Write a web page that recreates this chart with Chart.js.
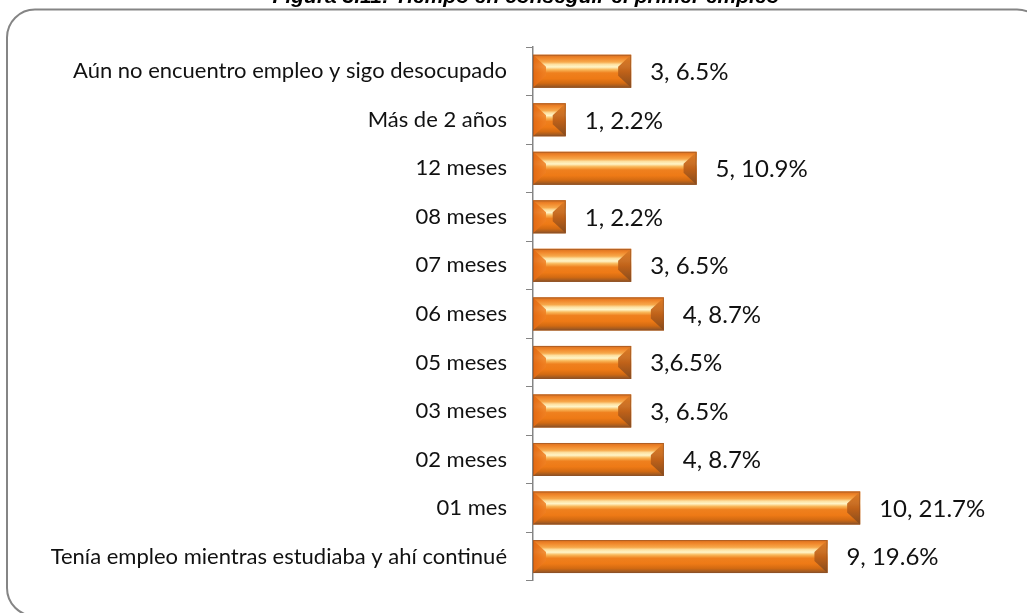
<!DOCTYPE html>
<html>
<head>
<meta charset="utf-8">
<script src="https://cdn.jsdelivr.net/npm/chart.js@4/dist/chart.umd.min.js"></script>
<style>
  html, body { margin: 0; padding: 0; background: #fff; }
  #wrap { position: relative; width: 1027px; height: 613px; }
</style>
</head>
<body>
<div id="wrap"><canvas id="chart" width="1027" height="613"></canvas></div>
<script>
// top to bottom, as in the picture
const categories = [
  'Aún no encuentro empleo y sigo desocupado',
  'Más de 2 años',
  '12 meses',
  '08 meses',
  '07 meses',
  '06 meses',
  '05 meses',
  '03 meses',
  '02 meses',
  '01 mes',
  'Tenía empleo mientras estudiaba y ahí continué',
];
const counts = [3, 1, 5, 1, 3, 4, 3, 3, 4, 10, 9];
const valueLabels = [
  '3, 6.5%', '1, 2.2%', '5, 10.9%', '1, 2.2%', '3, 6.5%', '4, 8.7%',
  '3,6.5%', '3, 6.5%', '4, 8.7%', '10, 21.7%', '9, 19.6%',
];
const titleText = 'Figura 3.11: Tiempo en conseguir el primer empleo';

const FONT = 'Lato';

// rounded frame + clipped title
const framePlugin = {
  id: 'frame',
  beforeDraw(chart) {
    const ctx = chart.ctx;
    ctx.save();
    ctx.strokeStyle = '#858585';
    ctx.lineWidth = 2;
    ctx.beginPath();
    ctx.roundRect(7, 9.5, 1038, 606.5, 28);
    ctx.stroke();
    ctx.fillStyle = '#000';
    ctx.font = 'italic bold 21px "Liberation Sans", Arial';
    ctx.textAlign = 'center';
    ctx.textBaseline = 'alphabetic';
    ctx.fillText(titleText, 526, 3);
    ctx.restore();
  },
};

// bevelled orange look on top of the library's bars + value labels
const bevelPlugin = {
  id: 'bevel',
  afterDatasetsDraw(chart) {
    const ctx = chart.ctx;
    const meta = chart.getDatasetMeta(0);
    meta.data.forEach((bar, i) => {
      const { x, y, base, height } = bar.getProps(['x', 'y', 'base', 'height'], true);
      const top = y - height / 2;
      const bottom = y + height / 2;
      const left = base;
      const right = x;
      const w = right - left;
      const b = Math.min(13, w / 2);
      const v = Math.min(12, height / 2);

      ctx.save();
      const g = ctx.createLinearGradient(0, top, 0, bottom);
      g.addColorStop(0, '#d86e1e');
      g.addColorStop(0.1, '#f0862a');
      g.addColorStop(0.22, '#f7a84a');
      g.addColorStop(0.29, '#fde0a0');
      g.addColorStop(0.37, '#fff5c8');
      g.addColorStop(0.45, '#f9b85a');
      g.addColorStop(0.55, '#ef801e');
      g.addColorStop(0.72, '#ee7a16');
      g.addColorStop(0.86, '#d26a12');
      g.addColorStop(1, '#8a5228');
      ctx.fillStyle = g;
      ctx.fillRect(left, top, w, height);

      // left wedge
      const gl = ctx.createLinearGradient(left, 0, left + b, 0);
      gl.addColorStop(0, 'rgba(226,104,18,0.95)');
      gl.addColorStop(1, 'rgba(240,128,34,0.85)');
      ctx.fillStyle = gl;
      ctx.beginPath();
      ctx.moveTo(left, top);
      ctx.lineTo(left + b, top + v);
      ctx.lineTo(left + b, bottom - v);
      ctx.lineTo(left, bottom);
      ctx.closePath();
      ctx.fill();

      // right wedge
      const gr = ctx.createLinearGradient(0, top, 0, bottom);
      gr.addColorStop(0, 'rgba(222,126,40,0.95)');
      gr.addColorStop(0.5, 'rgba(190,96,24,0.95)');
      gr.addColorStop(1, 'rgba(130,74,30,0.95)');
      ctx.fillStyle = gr;
      ctx.beginPath();
      ctx.moveTo(right, top);
      ctx.lineTo(right - b, top + v);
      ctx.lineTo(right - b, bottom - v);
      ctx.lineTo(right, bottom);
      ctx.closePath();
      ctx.fill();

      ctx.strokeStyle = 'rgba(140,80,40,0.55)';
      ctx.lineWidth = 1;
      ctx.strokeRect(left + 0.5, top + 0.5, w - 1, height - 1);

      ctx.fillStyle = '#111';
      ctx.font = `24px ${FONT}`;
      ctx.textAlign = 'left';
      ctx.textBaseline = 'middle';
      ctx.fillText(valueLabels[i], right + 19, y + 1);
      ctx.restore();
    });
  },
};

new Chart(document.getElementById('chart'), {
  type: 'bar',
  data: {
    labels: categories,
    datasets: [
      {
        data: counts,
        backgroundColor: '#ee7d1a',
        borderWidth: 0,
        categoryPercentage: 0.68,
        barPercentage: 1,
      },
    ],
  },
  options: {
    indexAxis: 'y',
    responsive: false,
    animation: false,
    layout: {
      padding: { top: 47, bottom: 18, left: 0, right: 36 },
    },
    plugins: {
      legend: { display: false },
      tooltip: { enabled: false },
    },
    scales: {
      x: {
        display: false,
        min: 0,
        max: 14,
      },
      y: {
        afterFit(scale) {
          scale.width = 533;
        },
        grid: {
          drawOnChartArea: false,
          drawTicks: true,
          tickLength: 7,
          color: '#858585',
          offset: true,
        },
        border: {
          color: '#858585',
          width: 1.5,
        },
        ticks: {
          color: '#111',
          padding: 19,
          font: { family: FONT, size: 22 },
        },
      },
    },
  },
  plugins: [framePlugin, bevelPlugin],
});
</script>
</body>
</html>
